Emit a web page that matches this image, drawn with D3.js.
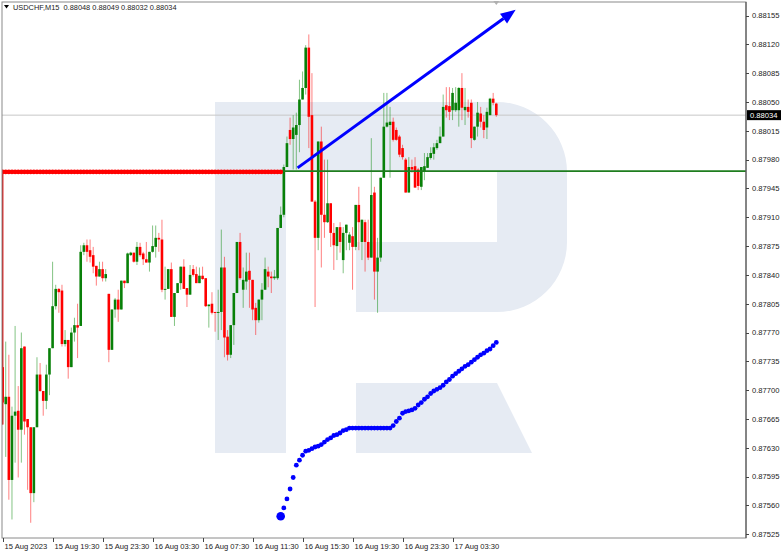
<!DOCTYPE html>
<html><head><meta charset="utf-8">
<script src="https://cdn.jsdelivr.net/npm/d3@7"></script>
<style>
body{margin:0;background:#fff}
svg{display:block}
text{font-family:"Liberation Sans",Arial,sans-serif}
</style>
</head><body><svg id="c" width="782" height="555"></svg>
<script>
// ---- data (USDCHF M15) ----
const opens=[87728,87683,87692,87591,87669,87675,87652,87753,87665,87655,
87575,87655,87719,87699,87687,87719,87751,87802,87823,87821,
87756,87761,87728,87770,87779,87778,87868,87876,87870,87864,
87851,87838,87847,87836,87817,87749,87798,87810,87798,87833,
87830,87864,87867,87856,87874,87866,87859,87855,87868,87874,
87885,87883,87822,87823,87847,87789,87818,87830,87850,87824,
87816,87847,87841,87830,87839,87836,87802,87805,87795,87794,
87795,87849,87765,87743,87779,87818,87880,87822,87832,87845,
87834,87800,87785,87810,87822,87844,87838,87836,87836,87897,
87913,87971,88016,88005,88010,88022,88053,88067,88116,88034,
87929,87885,88002,87913,87904,87927,87891,87875,87898,87858,
87891,87879,87887,87874,87925,87880,87904,87880,87861,87940,
87844,87861,87958,88020,88022,88026,88016,88008,87994,87980,
87940,87971,87972,87968,87947,87965,87970,87982,87987,87994,
88000,88008,88046,88045,88040,88040,88040,88067,88040,88044,
88049,88004,88020,88036,88026,88019,88034,88054,88048];
const highs=[87728,87759,87743,87680,87778,87705,87770,87753,87665,87655,
87655,87740,87733,87699,87731,87751,87856,87828,87824,87828,
87773,87761,87776,87788,87805,87876,87879,87883,87883,87874,
87851,87856,87856,87847,87817,87798,87812,87822,87833,87833,
87867,87868,87867,87880,87879,87868,87880,87868,87900,87900,
87891,87907,87850,87847,87855,87818,87830,87850,87859,87824,
87852,87852,87850,87849,87850,87836,87804,87819,87795,87822,
87895,87862,87773,87779,87818,87880,87891,87849,87867,87867,
87834,87806,87810,87830,87861,87850,87844,87846,87897,87923,
87974,88008,88031,88034,88037,88077,88087,88119,88132,88085,
87931,88002,88020,87980,87980,87927,87903,87898,87904,87898,
87901,87892,87898,87925,87947,87907,87907,87907,88006,87947,
87885,87958,88061,88061,88044,88031,88019,88010,87998,87982,
87983,87980,87983,87970,87971,87988,87988,87995,88000,88004,
88020,88059,88068,88068,88067,88068,88068,88085,88067,88053,
88053,88020,88050,88044,88034,88043,88055,88061,88049];
const lows=[87658,87619,87567,87543,87612,87594,87612,87646,87579,87539,
87564,87655,87698,87669,87677,87694,87751,87798,87794,87753,
87753,87714,87728,87759,87739,87778,87864,87856,87855,87842,
87827,87838,87832,87832,87734,87749,87788,87783,87798,87824,
87830,87863,87855,87852,87862,87852,87855,87844,87867,87861,
87868,87819,87810,87823,87789,87778,87818,87822,87823,87801,
87816,87838,87830,87830,87834,87801,87776,87792,87771,87761,
87773,87740,87736,87739,87755,87818,87834,87800,87822,87800,
87785,87767,87782,87785,87822,87825,87818,87834,87834,87897,
87910,87971,87998,87968,87968,87989,88053,88059,87994,87929,
87801,87870,87849,87885,87903,87874,87846,87858,87867,87842,
87870,87870,87822,87870,87870,87858,87844,87858,87861,87810,
87794,87856,87958,88019,87958,88002,88003,87983,87980,87940,
87940,87964,87946,87943,87943,87955,87970,87980,87980,87992,
88000,88008,88031,88028,88028,88038,88020,88028,88022,88031,
87994,88003,88008,88019,88006,88005,88034,88046,88032];
const closes=[87685,87692,87591,87669,87674,87652,87751,87662,87655,87575,
87655,87719,87699,87687,87719,87751,87802,87823,87819,87756,
87761,87728,87770,87779,87776,87868,87876,87868,87862,87850,
87838,87847,87836,87841,87749,87798,87810,87798,87833,87830,
87866,87867,87856,87874,87864,87859,87855,87868,87875,87885,
87883,87822,87823,87847,87789,87818,87830,87850,87823,87816,
87840,87840,87830,87839,87835,87802,87804,87794,87794,87795,
87849,87764,87743,87779,87818,87880,87836,87834,87844,87834,
87798,87785,87810,87822,87847,87838,87836,87838,87897,87913,
87971,88000,88005,88019,88022,88053,88067,88116,88032,87929,
87885,88002,87913,87904,87927,87891,87876,87898,87880,87891,
87901,87889,87874,87925,87904,87907,87880,87861,87937,87844,
87861,87958,88020,88025,88026,88004,88004,87986,87983,87940,
87971,87968,87946,87948,87971,87972,87983,87988,87995,88000,
88008,88044,88040,88038,88061,88049,88067,88043,88044,88038,
88006,88020,88037,88026,88016,88038,88054,88049,88034];
// blue dotted indicator, from bar 89 to the last bar
const blueStart=89;
const blueDots=[87547,87557,87568,87580,87594,87609,87615,87621,87626,87627,
87629,87631,87632,87634,87637,87640,87642,87645,87646,87648,
87651,87652,87654,87654,87654,87654,87654,87654,87654,87654,
87654,87654,87654,87654,87654,87654,87657,87662,87666,87672,
87674,87675,87676,87678,87682,87685,87689,87692,87696,87699,
87701,87703,87706,87710,87713,87717,87720,87723,87726,87729,
87731,87734,87737,87740,87743,87745,87748,87750,87754,87758];
// red dotted level, bars 0..89
const redLevel=0.87965, redFrom=0, redTo=89;
const greenLevel=0.87966;
const trendLine=[[94.4,0.87970],[164.2,0.88162]];
const priceTicks=[0.87525,0.87560,0.87595,0.87630,0.87665,0.87700,0.87735,0.87770,0.87805,0.87840,0.87875,0.87910,0.87945,0.87980,0.88015,0.88050,0.88085,0.88120,0.88155];
const timeTickBars=[0,16,32,48,64,80,96,112,128,144];
const timeTickLabels=["15 Aug 2023","15 Aug 19:30","15 Aug 23:30","16 Aug 03:30","16 Aug 07:30","16 Aug 11:30","16 Aug 15:30","16 Aug 19:30","16 Aug 23:30","17 Aug 03:30"];
const symbol="USDCHF,M15";

// ---- drawing ----
const P=v=>v/100000;
const L=2,R=746,T=2,B=538;
const svg=d3.select("#c");
svg.append("rect").attr("width",782).attr("height",555).attr("fill","#fff");
const x=d3.scaleLinear().domain([0,158]).range([2.6,496.3]);
const y=d3.scaleLinear().domain([0.87525,0.88155]).range([534.3,15.5]);

svg.append("clipPath").attr("id","pc").append("rect").attr("x",L).attr("y",T).attr("width",R-L).attr("height",B-T);
const g=svg.append("g").attr("clip-path","url(#pc)");

// watermark logo
const wm="#e6ebf3";
g.append("rect").attr("x",215).attr("y",102).attr("width",71).attr("height",351).attr("fill",wm);
g.append("path").attr("fill",wm).attr("d","M286,102 H497 A70,70 0 0 1 567,172 V242 A70,70 0 0 1 497,312 H356 V242 H497 V172 H286 Z");
g.append("path").attr("fill",wm).attr("d","M356,383 H497 L532,453 H356 Z");

// current price line
const last=closes.length-1;
g.append("line").attr("x1",L).attr("x2",R).attr("y1",y(P(closes[last]))).attr("y2",y(P(closes[last])))
 .attr("stroke","#c8c8c8").attr("stroke-width",1);

// candles
const idx=d3.range(opens.length);
const up=i=>closes[i]>=opens[i];
g.selectAll(".wick").data(idx).join("line")
 .attr("x1",i=>x(i)).attr("x2",i=>x(i))
 .attr("y1",i=>y(P(highs[i]))).attr("y2",i=>y(P(lows[i])))
 .attr("stroke",i=>up(i)?"#0a8a0a":"#ff0000").attr("stroke-opacity",0.5).attr("stroke-width",1);
g.selectAll(".body").data(idx).join("rect")
 .attr("x",i=>x(i)-1.3).attr("width",2.6)
 .attr("y",i=>y(P(Math.max(opens[i],closes[i]))))
 .attr("height",i=>Math.max(1,Math.abs(y(P(opens[i]))-y(P(closes[i])))))
 .attr("fill",i=>up(i)?"#088008":"#ff0000");

// green level
g.append("line").attr("x1",L).attr("x2",R).attr("y1",y(greenLevel)).attr("y2",y(greenLevel))
 .attr("stroke","#1e7d1e").attr("stroke-width",1.6);

// red dotted level + vertical
g.append("line").attr("x1",x(redFrom)).attr("x2",x(redFrom)).attr("y1",y(redLevel)).attr("y2",y(P(closes[0]))+22)
 .attr("stroke","#e00000").attr("stroke-width",1.6);
g.selectAll(".rd").data(d3.range(redFrom,redTo+1)).join("circle")
 .attr("cx",i=>x(i)).attr("cy",y(redLevel)).attr("r",2.4).attr("fill","#ff0000");

// blue dotted indicator
g.selectAll(".bd").data(blueDots).join("circle")
 .attr("cx",(d,k)=>x(blueStart+k)).attr("cy",d=>y(P(d)))
 .attr("r",(d,k)=>k===0?4.3:2.4).attr("fill","#0000ff");

// blue trend arrow
const [a,b]=trendLine;
const x1=x(a[0]),y1=y(a[1]),x2=x(b[0]),y2=y(b[1]);
const ang=Math.atan2(y2-y1,x2-x1), hl=15, hw=6;
const bx=x2-hl*Math.cos(ang), by=y2-hl*Math.sin(ang);
g.append("line").attr("x1",x1).attr("y1",y1).attr("x2",bx).attr("y2",by).attr("stroke","#0000ff").attr("stroke-width",3);
g.append("path").attr("fill","#0000ff").attr("d",
 `M${x2},${y2} L${bx-hw*Math.sin(ang)},${by+hw*Math.cos(ang)} L${bx+hw*Math.sin(ang)},${by-hw*Math.cos(ang)} Z`);

// frame
svg.append("rect").attr("x",L).attr("y",T).attr("width",R-L).attr("height",B-T).attr("fill","none").attr("stroke","#8a8a8a").attr("stroke-width",1);
svg.append("line").attr("x1",R).attr("x2",R).attr("y1",T).attr("y2",B).attr("stroke","#444").attr("stroke-width",1);

// shift marker
svg.append("path").attr("d",`M${x(158)-3},1 L${x(158)+3},1 L${x(158)},5 Z`).attr("fill","#b0b0b0");

// right axis
const ra=svg.append("g");
ra.selectAll("line").data(priceTicks).join("line")
 .attr("x1",R).attr("x2",R+3).attr("y1",d=>Math.round(y(d))+0.5).attr("y2",d=>Math.round(y(d))+0.5).attr("stroke","#444");
ra.selectAll("text").data(priceTicks).join("text")
 .attr("x",R+6).attr("y",d=>y(d)+2.8).attr("font-size",7.6).attr("fill","#222").text(d=>d.toFixed(5));
// current price label
const cy=y(P(closes[last]));
svg.append("rect").attr("x",R+1).attr("y",cy-5).attr("width",34).attr("height",10).attr("fill","#000");
svg.append("text").attr("x",R+4).attr("y",cy+2.8).attr("font-size",7.6).attr("fill","#fff").text(P(closes[last]).toFixed(5));

// bottom axis
const ba=svg.append("g");
ba.selectAll("line").data(timeTickBars).join("line")
 .attr("x1",d=>Math.round(x(d))+0.5).attr("x2",d=>Math.round(x(d))+0.5).attr("y1",B).attr("y2",B+4).attr("stroke","#444");
ba.selectAll("text").data(timeTickBars).join("text")
 .attr("x",d=>x(d)+2).attr("y",548.5).attr("font-size",7.6).attr("fill","#222").text((d,k)=>timeTickLabels[k]);

// header
svg.append("path").attr("d","M4,5 L9,5 L6.5,8.5 Z").attr("fill","#000");
svg.append("text").attr("x",13).attr("y",10).attr("font-size",7.4).attr("fill","#222").style("white-space","pre")
 .text(`${symbol}  ${P(opens[last]).toFixed(5)} ${P(highs[last]).toFixed(5)} ${P(lows[last]).toFixed(5)} ${P(closes[last]).toFixed(5)}`);
</script></body></html>
